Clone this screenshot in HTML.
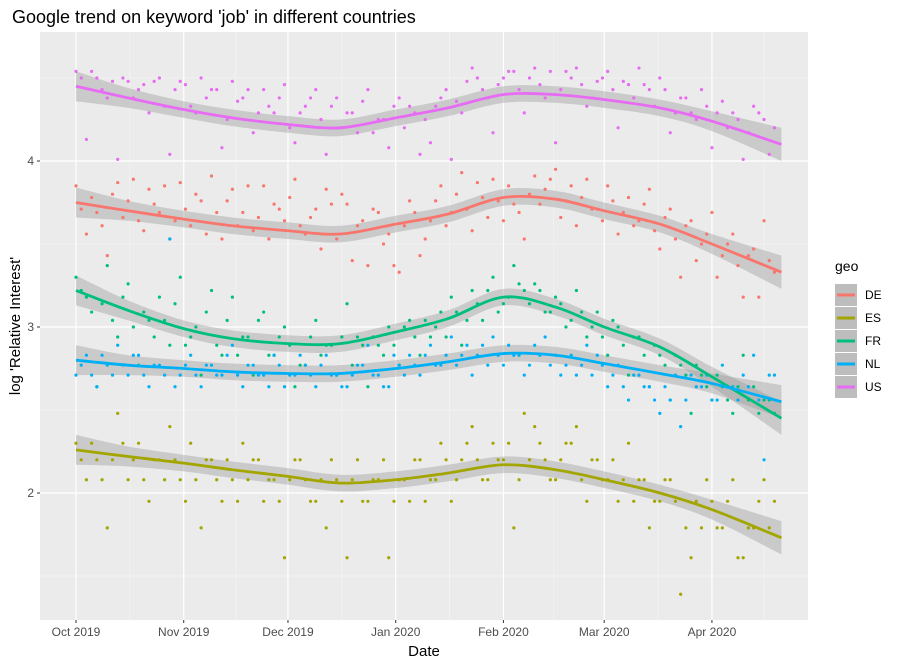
<!DOCTYPE html>
<html><head><meta charset="utf-8"><style>
body{margin:0;background:#fff;font-family:"Liberation Sans",Arial,sans-serif}
svg text{font-family:"Liberation Sans",Arial,sans-serif}
</style></head><body>
<svg id="chart" width="900" height="667" xmlns="http://www.w3.org/2000/svg">
<text x="12" y="23" font-size="18" fill="#000">Google trend on keyword 'job' in different countries</text>
<rect x="40" y="32" width="768" height="588" fill="#EBEBEB"/>
<g id="grid"></g><g id="ribbons"></g><g id="points"></g><g id="lines"></g><g id="axes"></g>
<text x="424" y="656" font-size="15" text-anchor="middle">Date</text>
<text transform="translate(20,326) rotate(-90)" font-size="15" text-anchor="middle">log 'Relative Interest'</text>
<g id="legend"></g>
</svg>
<script>
const seriesNames=["DE","ES","FR","NL","US"];
const colors=["#F8766D","#A3A500","#00BF7D","#00B0F6","#E76BF3"];
const xTickLabels=["Oct 2019","Nov 2019","Dec 2019","Jan 2020","Feb 2020","Mar 2020","Apr 2020"];
const xTickDays=[0,31,61,92,123,152,183];
const yTicks=[2,3,4];
const smoothDays=[0,15,31,45,61,76,92,107,123,138,152,168,183,203];
const smoothDE=[3.75,3.70,3.65,3.61,3.58,3.56,3.62,3.68,3.78,3.77,3.70,3.62,3.50,3.33];
const smoothES=[2.26,2.22,2.18,2.14,2.10,2.06,2.08,2.12,2.17,2.14,2.08,2.00,1.90,1.73];
const smoothFR=[3.22,3.10,2.99,2.93,2.90,2.90,2.97,3.05,3.18,3.12,3.00,2.88,2.70,2.45];
const smoothNL=[2.80,2.77,2.75,2.73,2.72,2.72,2.75,2.79,2.84,2.83,2.78,2.72,2.66,2.55];
const smoothUS=[4.45,4.38,4.31,4.26,4.22,4.20,4.26,4.32,4.40,4.40,4.37,4.32,4.24,4.10];
const bandHalf=[0.09,0.06,0.05,0.05,0.05,0.05,0.05,0.05,0.05,0.05,0.05,0.05,0.06,0.10];
const ptsDE=[3.85,3.56,3.69,3.43,3.87,3.76,3.64,3.83,3.69,3.53,3.87,3.61,3.76,3.91,3.53,3.83,3.69,3.58,3.85,3.74,3.64,3.89,3.56,3.71,3.83,3.53,3.74,3.61,3.37,3.69,3.56,3.33,3.76,3.43,3.64,3.85,3.69,3.93,3.58,3.78,3.89,3.64,3.74,3.53,3.91,3.83,3.95,3.76,3.61,3.89,3.71,3.85,3.56,3.78,3.64,3.83,3.47,3.71,3.30,3.64,3.50,3.69,3.43,3.56,3.18,3.47,3.64,3.33];
const ptsDE2=[3.71,3.78,3.61,3.80,3.66,3.89,3.58,3.74,3.85,3.64,3.71,3.80,3.56,3.69,3.76,3.61,3.85,3.66,3.53,3.71,3.78,3.61,3.66,3.47,3.74,3.80,3.40,3.64,3.71,3.50,3.37,3.61,3.69,3.53,3.76,3.61,3.80,3.71,3.87,3.66,3.76,3.85,3.69,3.80,3.74,3.89,3.66,3.85,3.78,3.71,3.64,3.76,3.69,3.61,3.74,3.58,3.66,3.53,3.61,3.40,3.56,3.30,3.50,3.37,3.43,3.18,3.40];
const ptsES=[2.30,2.08,2.20,1.79,2.48,2.08,2.30,1.95,2.20,2.40,2.08,2.30,1.79,2.20,1.95,2.08,2.30,2.20,1.95,2.08,1.61,2.20,2.08,1.95,1.79,2.08,1.61,2.20,1.95,2.08,1.61,2.08,1.95,2.20,2.08,2.30,1.95,2.20,2.40,2.08,2.30,2.20,1.79,2.48,2.40,2.20,2.08,2.30,2.40,1.95,2.20,2.08,1.95,2.30,2.08,1.79,1.95,2.08,1.39,1.61,1.79,1.95,1.79,2.08,1.61,1.79,2.08,1.95];
const ptsES2=[2.20,2.30,2.08,2.20,2.30,2.20,2.08,2.20,2.08,2.20,1.95,2.08,2.20,2.08,2.20,1.95,2.08,2.20,2.08,1.95,2.08,2.20,1.95,2.08,2.20,1.95,2.08,1.95,2.08,2.20,1.95,2.08,2.20,1.95,2.08,2.20,2.08,2.30,2.20,2.08,2.20,2.30,2.08,2.20,2.30,2.08,2.20,2.30,2.08,2.20,2.08,2.20,2.08,1.95,2.08,1.95,2.08,1.95,1.79,1.95,2.08,1.79,1.95,1.61,1.79,1.95,1.79];
const ptsFR=[3.30,3.18,2.64,3.37,2.94,3.26,2.77,3.04,3.18,2.89,3.30,2.94,2.71,3.22,2.83,3.18,2.94,2.71,3.09,2.83,3.00,2.64,2.77,3.04,2.89,2.71,3.14,2.94,2.64,2.89,3.00,2.77,3.04,2.83,2.94,3.09,3.18,2.89,3.22,3.04,3.30,3.14,3.37,3.22,3.26,3.09,3.18,3.00,3.22,2.94,3.09,2.83,3.00,2.71,2.94,2.64,2.83,2.56,2.77,2.48,2.71,2.56,2.64,2.48,2.83,2.64,2.56,2.48];
const ptsFR2=[3.22,3.09,3.14,3.04,3.18,3.00,3.09,2.94,3.04,3.14,2.89,3.00,3.09,2.89,3.04,2.83,2.94,3.04,2.83,2.94,2.89,2.77,2.94,2.83,2.89,2.94,2.77,2.89,2.94,2.83,2.89,3.00,2.94,3.04,3.00,2.94,3.09,3.04,3.14,3.22,3.09,3.18,3.26,3.14,3.22,3.09,3.14,3.04,3.09,3.00,2.94,3.04,2.89,2.94,2.83,2.89,2.77,2.83,2.71,2.77,2.64,2.71,2.56,2.64,2.56,2.48,2.56];
const ptsNL=[2.71,2.83,2.64,2.77,2.89,2.71,2.83,2.64,2.77,3.53,2.71,2.83,2.64,2.77,2.71,2.89,2.64,2.77,2.71,2.83,2.64,2.71,2.77,2.64,2.83,2.71,2.64,2.77,2.89,2.71,2.64,2.77,2.83,2.71,2.89,2.77,2.94,2.83,2.71,2.89,2.94,2.77,2.83,2.71,2.89,2.94,2.83,2.77,2.71,2.89,2.83,2.64,2.77,2.56,2.71,2.64,2.48,2.56,2.40,2.71,2.64,2.56,2.77,2.64,2.71,2.83,2.20,2.71];
const ptsNL2=[2.77,2.71,2.83,2.71,2.77,2.83,2.71,2.77,2.71,2.64,2.77,2.71,2.77,2.71,2.83,2.71,2.77,2.71,2.64,2.77,2.71,2.83,2.71,2.77,2.71,2.64,2.71,2.77,2.71,2.64,2.83,2.71,2.77,2.83,2.77,2.83,2.77,2.89,2.83,2.77,2.83,2.89,2.83,2.77,2.83,2.77,2.71,2.83,2.77,2.71,2.77,2.71,2.64,2.71,2.64,2.56,2.64,2.71,2.56,2.64,2.71,2.56,2.64,2.56,2.64,2.56,2.71];
const ptsUS=[4.54,4.13,4.50,4.38,4.01,4.48,4.43,4.29,4.50,4.04,4.48,4.33,4.50,4.43,4.08,4.48,4.38,4.17,4.43,4.29,4.46,4.11,4.33,4.43,4.04,4.38,4.29,4.17,4.43,4.25,4.08,4.38,4.33,4.04,4.11,4.38,4.01,4.29,4.56,4.43,4.17,4.50,4.54,4.29,4.56,4.38,4.11,4.54,4.56,4.33,4.48,4.54,4.20,4.46,4.56,4.43,4.50,4.17,4.38,4.29,4.43,4.08,4.36,4.29,4.01,4.33,4.25,4.20];
const ptsUS2=[4.50,4.54,4.43,4.48,4.50,4.38,4.46,4.48,4.33,4.43,4.46,4.29,4.38,4.43,4.25,4.36,4.43,4.29,4.33,4.38,4.20,4.29,4.38,4.25,4.33,4.20,4.29,4.36,4.17,4.25,4.33,4.20,4.29,4.25,4.33,4.43,4.36,4.48,4.50,4.38,4.46,4.54,4.43,4.50,4.46,4.54,4.43,4.50,4.46,4.38,4.50,4.43,4.48,4.38,4.46,4.33,4.43,4.29,4.38,4.25,4.33,4.29,4.20,4.25,4.17,4.29,4.04];
const smoothAll=[smoothDE,smoothES,smoothFR,smoothNL,smoothUS];
const ptsAll=[ptsDE,ptsES,ptsFR,ptsNL,ptsUS];
const ptsAll2=[ptsDE2,ptsES2,ptsFR2,ptsNL2,ptsUS2];
const NS="http://www.w3.org/2000/svg";
const X0=40,X1=808,Y0=32,Y1=620;
function xs(d){return 76+d*3.475;}
function ys(v){return 493-(v-2)*166;}
function mk(tag,attrs,parent){const e=document.createElementNS(NS,tag);for(const k in attrs)e.setAttribute(k,attrs[k]);parent.appendChild(e);return e;}
const grid=document.getElementById('grid'),axes=document.getElementById('axes');
[1.5,2.5,3.5,4.5].forEach(v=>{const l=mk('line',{x1:X0,x2:X1,y1:ys(v),y2:ys(v),stroke:'#F5F5F5','stroke-width':0.6},grid);

});
for(let i=0;i<xTickDays.length;i++){const d=i<xTickDays.length-1?(xTickDays[i]+xTickDays[i+1])/2:xTickDays[i]+15;const l=mk('line',{x1:xs(d),x2:xs(d),y1:Y0,y2:Y1,stroke:'#F5F5F5','stroke-width':0.6},grid);

}
yTicks.forEach(v=>{const l=mk('line',{x1:X0,x2:X1,y1:ys(v),y2:ys(v),stroke:'#fff','stroke-width':1.2},grid);


mk('line',{x1:X0-3,x2:X0,y1:ys(v),y2:ys(v),stroke:'#333'},axes);
const t=mk('text',{x:X0-6,y:ys(v)+4,'text-anchor':'end','font-size':12,fill:'#4D4D4D'},axes);t.textContent=v;

});
xTickDays.forEach((d,i)=>{const l=mk('line',{x1:xs(d),x2:xs(d),y1:Y0,y2:Y1,stroke:'#fff','stroke-width':1.2},grid);


mk('line',{x1:xs(d),x2:xs(d),y1:Y1,y2:Y1+3,stroke:'#333'},axes);
const t=mk('text',{x:xs(d),y:Y1+16,'text-anchor':'middle','font-size':12,fill:'#4D4D4D'},axes);t.textContent=xTickLabels[i];

});
function curve(pts){let s='M'+pts[0][0]+','+pts[0][1];for(let i=0;i<pts.length-1;i++){const p0=pts[Math.max(0,i-1)],p1=pts[i],p2=pts[i+1],p3=pts[Math.min(pts.length-1,i+2)];
s+=' C'+(p1[0]+(p2[0]-p0[0])/6)+','+(p1[1]+(p2[1]-p0[1])/6)+' '+(p2[0]-(p3[0]-p1[0])/6)+','+(p2[1]-(p3[1]-p1[1])/6)+' '+p2[0]+','+p2[1];}return s;}
const rib=document.getElementById('ribbons'),pg=document.getElementById('points'),lg=document.getElementById('lines');
smoothAll.forEach((sm,si)=>{
const up=smoothDays.map((d,i)=>[xs(d),ys(sm[i]+bandHalf[i])]);
const lo=smoothDays.map((d,i)=>[xs(d),ys(sm[i]-bandHalf[i])]).reverse();
const lop=curve(lo).replace(/^M/,'L');
const r=mk('path',{d:curve(up)+' '+lop+' Z',fill:'#999','fill-opacity':0.4},rib);


const pts=ptsAll[si];const step=201/(pts.length-1);
pts.forEach((v,i)=>{const c=mk('circle',{cx:xs(i*step),cy:ys(v),r:1.6,fill:colors[si]},pg);

});
ptsAll2[si].forEach((v,i)=>{const c=mk('circle',{cx:xs(i*step+step/2),cy:ys(v),r:1.6,fill:colors[si]},pg);

});
const p=mk('path',{d:curve(smoothDays.map((d,i)=>[xs(d),ys(sm[i])])),fill:'none',stroke:colors[si],'stroke-width':2.8},lg);

});
const leg=document.getElementById('legend');
const lt=mk('text',{x:835,y:271,'font-size':14},leg);lt.textContent='geo';


seriesNames.forEach((n,i)=>{const y=284+i*23;
const g=mk('g',{},leg);


mk('rect',{x:835,y:y,width:22,height:22,fill:'#BDBDBD'},g);
mk('line',{x1:837,x2:855,y1:y+11,y2:y+11,stroke:colors[i],'stroke-width':3},g);
const t=mk('text',{x:865,y:y+15,'font-size':12},g);t.textContent=n;});
</script>
</body></html>
